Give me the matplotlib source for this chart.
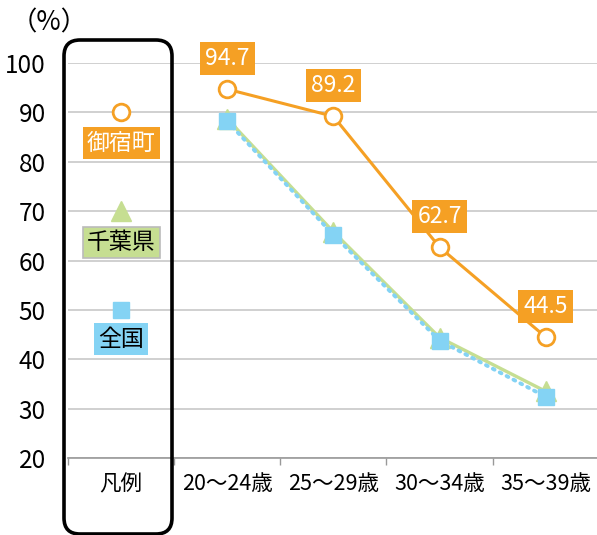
import matplotlib
matplotlib.use('Agg')
import matplotlib.pyplot as plt
from matplotlib.patches import FancyBboxPatch
from matplotlib.transforms import IdentityTransform

plt.rcParams['font.family'] = ['Noto Sans CJK JP', 'DejaVu Sans']

categories = ['凡例', '20～24歳', '25～29歳', '30～34歳', '35～39歳']
onjuku = [94.7, 89.2, 62.7, 44.5]
chiba = [88.7, 65.8, 44.4, 33.5]
zenkoku = [88.2, 65.2, 43.8, 32.4]
names = ['御宿町', '千葉県', '全国']
legend_y = [90, 70, 50]
legend_label_y = [83.8, 63.6, 44.1]

orange = '#F5A024'
green = '#C6DE92'
blue = '#84D3F4'

fig = plt.figure(figsize=(5.97, 5.35), dpi=100)
ax = fig.add_axes([0.1139, 0.1439, 1.003 - 0.1139, 0.8822 - 0.1439])

xs = [1, 2, 3, 4]
ax.plot(xs, chiba, color=green, lw=2.4, marker='^', ms=14, mec=green, mfc=green, zorder=3)
ax.plot(xs, zenkoku, color=blue, lw=2.8, ls=(0, (0.5, 1.5)), dash_capstyle='round',
        marker='s', ms=11.5, mec=blue, mfc=blue, zorder=4)
ax.plot(xs, onjuku, color=orange, lw=2.2, marker='o', ms=12, mfc='white', mec=orange,
        mew=2, zorder=5)

for x, v in zip(xs, onjuku):
    ax.annotate(f'{v:.1f}', (x, v), xytext=(0, 22), textcoords='offset points',
                ha='center', va='center', color='white', fontsize=16.5,
                bbox=dict(boxstyle='square,pad=0.22', fc=orange, ec='none'),
                annotation_clip=False, zorder=6)

# legend column inside the chart
ax.plot([0], [legend_y[0]], marker='o', ms=12, mfc='white', mec=orange, mew=2, ls='none')
ax.plot([0], [legend_y[1]], marker='^', ms=14, color=green, ls='none')
ax.plot([0], [legend_y[2]], marker='s', ms=11.5, color=blue, ls='none')
ax.text(0, legend_label_y[0], names[0], ha='center', va='center', fontsize=16.5, color='white',
        bbox=dict(boxstyle='square,pad=0.18', fc=orange, ec='none'))
ax.text(0, legend_label_y[1], names[1], ha='center', va='center', fontsize=16.5, color='black',
        bbox=dict(boxstyle='square,pad=0.18', fc=green, ec='#bbbbbb', lw=1.2))
ax.text(0, legend_label_y[2], names[2], ha='center', va='center', fontsize=16.5, color='black',
        bbox=dict(boxstyle='square,pad=0.18', fc=blue, ec='none'))

ax.set_xlim(-0.5, 4.5)
ax.set_ylim(20, 100)
ax.set_yticks(range(20, 101, 10))
ax.set_xticks(range(5))
ax.set_xticklabels(categories, fontsize=15.5)
ax.set_xticks([-0.5, 0.5, 1.5, 2.5, 3.5, 4.5], minor=True)
ax.tick_params(axis='x', which='major', length=0, pad=11)
ax.tick_params(axis='x', which='minor', length=5, color='#999999', width=1)
ax.tick_params(axis='y', length=0, labelsize=17.5, pad=16)
ax.grid(axis='y', color='#d0d0d0', lw=1.4)
ax.set_axisbelow(True)
for s in ['left', 'top', 'right']:
    ax.spines[s].set_visible(False)
ax.spines['bottom'].set_color('#999999')
ax.spines['bottom'].set_linewidth(1.2)

fig.text(0.083, 0.958, '（%）', ha='center', va='center', fontsize=19)

box = FancyBboxPatch((64, 1), 108, 494, boxstyle='round,pad=0,rounding_size=16',
                     transform=IdentityTransform(), fc='none', ec='black', lw=2.6)
fig.add_artist(box)

fig.savefig('out.png', dpi=100)
